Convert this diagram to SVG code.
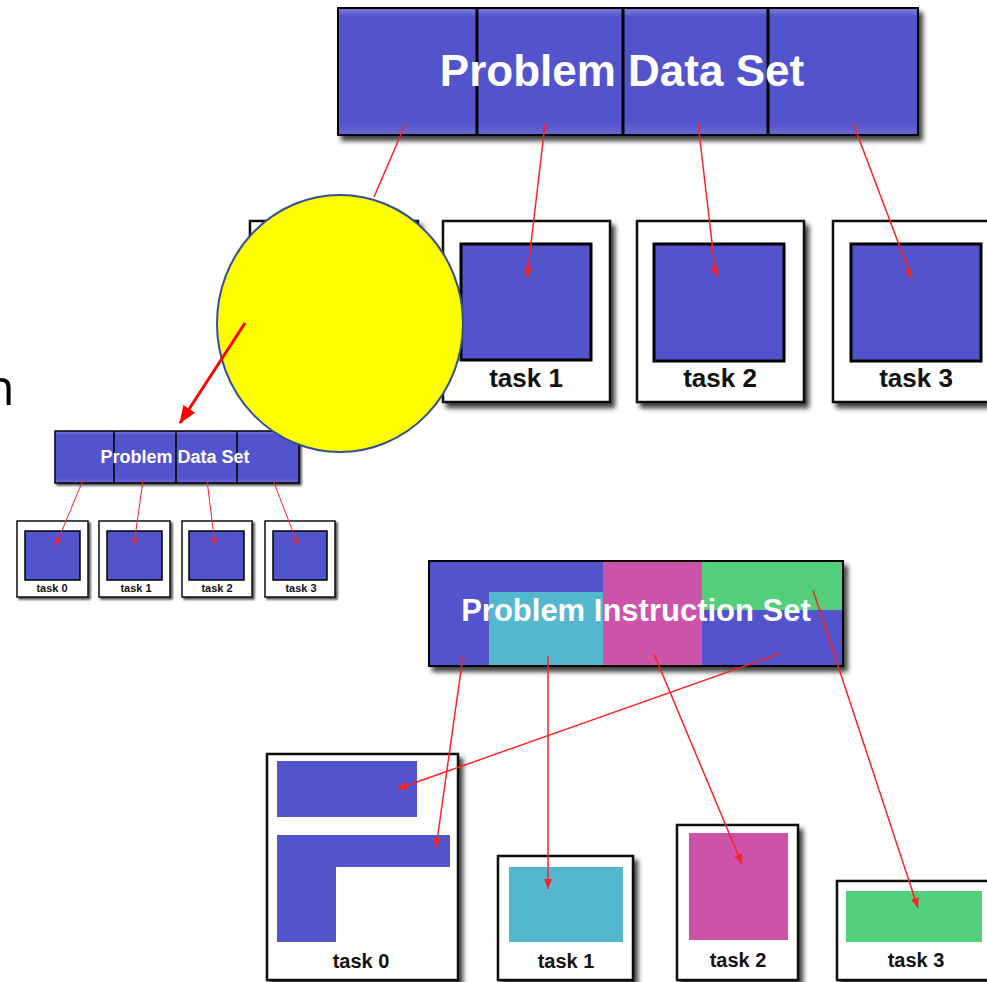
<svg xmlns="http://www.w3.org/2000/svg" width="987" height="982" viewBox="0 0 987 982">
  <style>
    .bar { stroke: #000; stroke-width: 2; filter: url(#shadow); }
    .div { stroke: #000; stroke-width: 3; }
    .box { fill: #fff; stroke: #111; stroke-width: 2.5; filter: url(#shadow); }
    .sbox { fill: #fff; stroke: #111; stroke-width: 1.5; filter: url(#shadowS); }
    .blue { fill: #5353CC; }
    .inner { fill: #5353CC; stroke: #000; stroke-width: 3; }
    .sinner { fill: #5353CC; stroke: #000; stroke-width: 1.5; }
    .title { font-family: "Liberation Sans", Arial, sans-serif; font-weight: bold; fill: #fff; text-anchor: middle; }
    .label { font-family: "Liberation Sans", Arial, sans-serif; font-weight: bold; fill: #111; text-anchor: middle; }
    .link { stroke: #f22; stroke-width: 1.5; fill: none; marker-end: url(#tip); }
    .slink { stroke: #f22; stroke-width: 1; fill: none; marker-end: url(#tipS); }
  </style>
  <defs>
    <linearGradient id="barFill" x1="0" y1="0" x2="0" y2="1">
      <stop offset="0" stop-color="#8080dc"/>
      <stop offset="0.07" stop-color="#5353CC"/>
      <stop offset="0.9" stop-color="#5353CC"/>
      <stop offset="1" stop-color="#6a6ad4"/>
    </linearGradient>
    <filter id="shadow" x="-10%" y="-10%" width="130%" height="130%">
      <feDropShadow dx="4" dy="5" stdDeviation="2.5" flood-color="#000" flood-opacity="0.75"/>
    </filter>
    <filter id="shadowS" x="-10%" y="-10%" width="130%" height="130%">
      <feDropShadow dx="2" dy="2" stdDeviation="1.2" flood-color="#000" flood-opacity="0.7"/>
    </filter>
    <marker id="tip" markerWidth="10" markerHeight="8" refX="10" refY="4" orient="auto" markerUnits="userSpaceOnUse">
      <path d="M0,0 L10,4 L0,8 Z" fill="#f22"/>
    </marker>
    <marker id="tipS" markerWidth="7" markerHeight="6" refX="7" refY="3" orient="auto" markerUnits="userSpaceOnUse">
      <path d="M0,0 L7,3 L0,6 Z" fill="#f22"/>
    </marker>
    <marker id="pointerTip" markerWidth="18" markerHeight="14" refX="17" refY="7" orient="auto" markerUnits="userSpaceOnUse">
      <path d="M0,0 L18,7 L0,14 Z" fill="#f00"/>
    </marker>
  </defs>

  <rect width="987" height="982" fill="#fff"/>

  <!-- trailing letter of a caption running off the left edge -->
  <text x="-16" y="405" font-family="'Open Sans', 'Liberation Sans', sans-serif" font-size="50" fill="#000">n</text>

  <!-- large data-set bar -->
  <g id="data-bar">
    <rect class="bar" x="338" y="8" width="580" height="127" fill="url(#barFill)"/>
    <line class="div" x1="477" y1="8" x2="477" y2="135"/>
    <line class="div" x1="623" y1="8" x2="623" y2="135"/>
    <line class="div" x1="768" y1="8" x2="768" y2="135"/>
    <text class="title" x="622" y="86" font-size="44">Problem Data Set</text>
  </g>

  <g id="data-task0">
    <rect class="box" x="250" y="221" width="168" height="181"/>
    <rect class="inner" x="268" y="244" width="130" height="117"/>
  </g>
  <g id="data-task1">
    <rect class="box" x="443" y="221" width="167" height="181"/>
    <rect class="inner" x="461" y="244" width="130" height="116"/>
    <text class="label" x="526" y="387" font-size="26">task 1</text>
  </g>
  <g id="data-task2">
    <rect class="box" x="637" y="221" width="167" height="181"/>
    <rect class="inner" x="654" y="244" width="130" height="117"/>
    <text class="label" x="720" y="387" font-size="26">task 2</text>
  </g>
  <g id="data-task3">
    <rect class="box" x="833" y="221" width="166" height="181"/>
    <rect class="inner" x="851" y="244" width="130" height="117"/>
    <text class="label" x="916" y="387" font-size="26">task 3</text>
  </g>

  <!-- small data-set bar -->
  <g id="small-bar">
    <rect class="bar" x="55" y="431" width="244" height="52" fill="url(#barFill)" style="stroke-width:1.5;filter:url(#shadowS)"/>
    <line class="div" x1="114" y1="431" x2="114" y2="483" style="stroke-width:1.5"/>
    <line class="div" x1="176" y1="431" x2="176" y2="483" style="stroke-width:1.5"/>
    <line class="div" x1="237" y1="431" x2="237" y2="483" style="stroke-width:1.5"/>
    <text class="title" x="175" y="463" font-size="18">Problem Data Set</text>
  </g>
  <g id="small-task0">
    <rect class="sbox" x="17" y="521" width="71" height="76"/>
    <rect class="sinner" x="25" y="531" width="55" height="49"/>
    <text class="label" x="52" y="592" font-size="11">task 0</text>
  </g>
  <g id="small-task1">
    <rect class="sbox" x="99" y="521" width="71" height="76"/>
    <rect class="sinner" x="107" y="531" width="55" height="49"/>
    <text class="label" x="136" y="592" font-size="11">task 1</text>
  </g>
  <g id="small-task2">
    <rect class="sbox" x="182" y="521" width="70" height="76"/>
    <rect class="sinner" x="189" y="531" width="55" height="49"/>
    <text class="label" x="217" y="592" font-size="11">task 2</text>
  </g>
  <g id="small-task3">
    <rect class="sbox" x="265" y="521" width="70" height="76"/>
    <rect class="sinner" x="273" y="531" width="54" height="49"/>
    <text class="label" x="301" y="592" font-size="11">task 3</text>
  </g>

  <!-- instruction-set bar -->
  <g id="instr-bar">
    <rect class="bar" x="429" y="561" width="414" height="105" fill="#5353CC"/>
    <rect x="489" y="592" width="114" height="74" fill="#53B8CE"/>
    <rect x="603" y="561" width="99" height="105" fill="#CC53A8"/>
    <rect x="702" y="561" width="141" height="49" fill="#53CE7A"/>
    <rect x="429" y="561" width="414" height="105" fill="none" stroke="#000" stroke-width="2"/>
    <text class="title" x="636" y="621" font-size="31">Problem Instruction Set</text>
  </g>

  <g id="instr-task0">
    <rect class="box" x="267" y="754" width="191" height="226"/>
    <rect class="blue" x="277" y="761" width="140" height="56"/>
    <path class="blue" d="M277,835 H450 V867 H336 V942 H277 Z"/>
    <text class="label" x="361" y="968" font-size="20">task 0</text>
  </g>
  <g id="instr-task1">
    <rect class="box" x="498" y="856" width="135" height="124"/>
    <rect x="509" y="867" width="114" height="75" fill="#53B8CE"/>
    <text class="label" x="566" y="968" font-size="20">task 1</text>
  </g>
  <g id="instr-task2">
    <rect class="box" x="677" y="825" width="121" height="155"/>
    <rect x="689" y="833" width="99" height="107" fill="#CC53A8"/>
    <text class="label" x="738" y="967" font-size="20">task 2</text>
  </g>
  <g id="instr-task3">
    <rect class="box" x="837" y="881" width="158" height="99"/>
    <rect x="846" y="891" width="136" height="51" fill="#53CE7A"/>
    <text class="label" x="916" y="967" font-size="20">task 3</text>
  </g>

  <!-- highlight disc -->
  <g id="highlight">
    <ellipse cx="340" cy="323.5" rx="123" ry="128.5" fill="#FFFF00" stroke="#2F528F" stroke-width="2"/>
  </g>

  <g id="connectors">
    <!-- data set to tasks -->
    <line x1="405" y1="125" x2="374" y2="197" stroke="#f22" stroke-width="1.5"/>
    <line class="link" x1="545" y1="124" x2="527" y2="278"/>
    <line class="link" x1="698" y1="123" x2="716" y2="277"/>
    <line class="link" x1="853" y1="123" x2="912" y2="279"/>
    <!-- small data set to tasks -->
    <line class="slink" x1="83" y1="480" x2="56" y2="545"/>
    <line class="slink" x1="143" y1="480" x2="134" y2="545"/>
    <line class="slink" x1="207" y1="480" x2="215" y2="545"/>
    <line class="slink" x1="273" y1="480" x2="298" y2="545"/>
    <!-- instruction set to tasks -->
    <line class="link" x1="463" y1="656" x2="436" y2="848"/>
    <line class="link" x1="548" y1="656" x2="548" y2="889"/>
    <line class="link" x1="654" y1="654" x2="742" y2="864"/>
    <line class="link" x1="779" y1="654" x2="397" y2="789"/>
    <line class="link" x1="813" y1="590" x2="918" y2="908"/>
    <!-- pointer from the disc to the small bar -->
    <line x1="245" y1="323" x2="180" y2="423" stroke="#f00" stroke-width="3" marker-end="url(#pointerTip)"/>
  </g>
</svg>
